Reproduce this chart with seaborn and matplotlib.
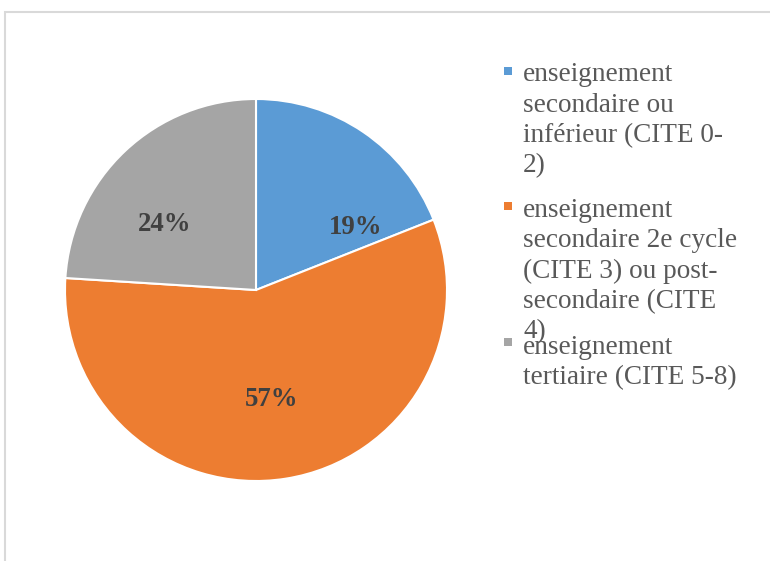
import matplotlib
matplotlib.use("Agg")
import matplotlib.pyplot as plt
from matplotlib.patches import Rectangle
import seaborn as sns

# Répartition par niveau d'éducation (en %)
categories = [
    "enseignement secondaire ou inférieur (CITE 0-2)",
    "enseignement secondaire 2e cycle (CITE 3) ou post-secondaire (CITE 4)",
    "enseignement tertiaire (CITE 5-8)",
]
legend_lines = [
    ["enseignement", "secondaire ou", "inférieur (CITE 0-", "2)"],
    ["enseignement", "secondaire 2e cycle", "(CITE 3) ou post-", "secondaire (CITE", "4)"],
    ["enseignement", "tertiaire (CITE 5-8)"],
]
shares = [19, 57, 24]
colors = ["#5B9BD5", "#ED7D31", "#A5A5A5"]

# best-fit spots for the percentage labels, in pie radius units
label_spots = [(0.52, 0.325), (0.08, -0.575), (-0.48, 0.345)]

sns.set_theme(style="white")
palette = sns.color_palette(colors)
plt.rcParams["font.family"] = ["Liberation Serif", "DejaVu Serif"]

W, H = 770, 561
fig = plt.figure(figsize=(W / 100, H / 100), dpi=100)
fig.patch.set_facecolor("white")

# outer chart frame (only its left and top edges fall inside the canvas)
fig.patches.append(Rectangle((5 / W, -20 / H), (W + 40) / W, (H - 12 + 20) / H,
                             transform=fig.transFigure, fill=False,
                             edgecolor="#D9D9D9", linewidth=1.5))

cx, cy, r = 256, 290, 191
ax = fig.add_axes([(cx - r) / W, (H - cy - r) / H, 2 * r / W, 2 * r / H])
wedges, texts, autotexts = ax.pie(
    shares, colors=palette, startangle=90, counterclock=False,
    autopct=lambda p: f"{p:.0f}%", pctdistance=0.6, radius=1,
    wedgeprops=dict(edgecolor="white", linewidth=1.5),
    textprops=dict(fontsize=19.3, fontweight="bold", color="#404040"),
)
for t, spot in zip(autotexts, label_spots):
    t.set_position(spot)
ax.set_xlim(-1, 1)
ax.set_ylim(-1, 1)
ax.set_aspect("equal")
ax.axis("off")
for w in wedges:
    w.set_clip_on(False)

# legend drawn as wrapped lines beside square markers
marker_centers = [71, 206, 342]
first_baselines = [81, 216.5, 353.5]
step = 30.5
for lines, mc, base, col in zip(legend_lines, marker_centers, first_baselines, palette):
    fig.patches.append(Rectangle((504 / W, 1 - (mc + 4) / H), 8 / W, 8 / H,
                                 transform=fig.transFigure, facecolor=col,
                                 edgecolor="none"))
    for i, line in enumerate(lines):
        fig.text(523 / W, 1 - (base + i * step) / H, line, fontsize=19.6,
                 color="#595959", ha="left", va="baseline")

fig.savefig("out.png", dpi=100, facecolor="white")
